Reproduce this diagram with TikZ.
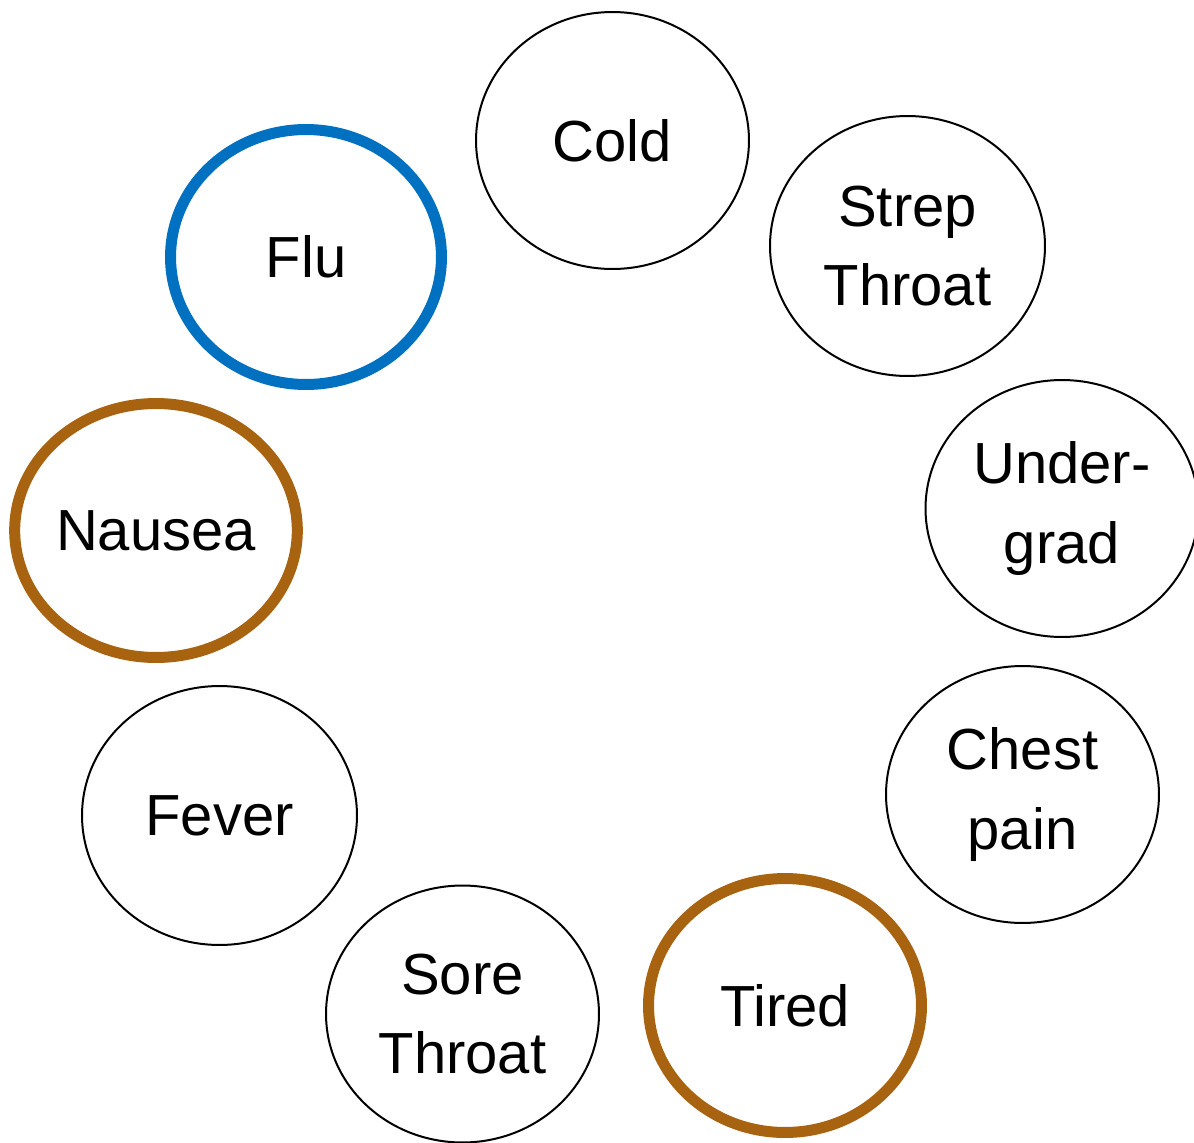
\documentclass[tikz,border=0pt]{standalone}
\usepackage{fontspec}
\setmainfont{Liberation Sans}
\usetikzlibrary{shapes.geometric}
\definecolor{flublue}{RGB}{0,112,192}
\definecolor{ringbrown}{RGB}{168,99,16}
\tikzset{
  bubble/.style={ellipse, draw=black, line width=0.04cm, inner sep=0pt, outer sep=0pt,
    align=center, font=\fontsize{33}{45}\selectfont},
  bluering/.style={bubble, draw=flublue, line width=0.22cm},
  brownring/.style={bubble, draw=ringbrown, line width=0.22cm}
}
\begin{document}
\begin{tikzpicture}[x=0.02cm,y=-0.02cm]
\useasboundingbox (0,0) rectangle (1194,1143);
\node[bubble, minimum width=5.46cm, minimum height=5.14cm] (cold) at (612.5,140.5) {Cold};
\node[bubble, minimum width=5.50cm, minimum height=5.20cm] (strep) at (907.5,246) {Strep\\Throat};
\node[bubble, minimum width=5.46cm, minimum height=5.14cm] (under) at (1062,508.5) {Under-\\grad};
\node[bubble, minimum width=5.46cm, minimum height=5.14cm] (chest) at (1022.5,794.5) {Chest\\pain};
\node[brownring, minimum width=5.46cm, minimum height=5.08cm] (tired) at (785,1005.5) {Tired};
\node[bubble, minimum width=5.46cm, minimum height=5.14cm] (sore) at (462.5,1014) {Sore\\Throat};
\node[bubble, minimum width=5.50cm, minimum height=5.18cm] (fever) at (219.5,815.5) {Fever};
\node[brownring, minimum width=5.46cm, minimum height=5.08cm] (nausea) at (156,530.5) {Nausea};
\node[bluering, minimum width=5.42cm, minimum height=5.10cm] (flu) at (306,257) {Flu};
\end{tikzpicture}
\end{document}
